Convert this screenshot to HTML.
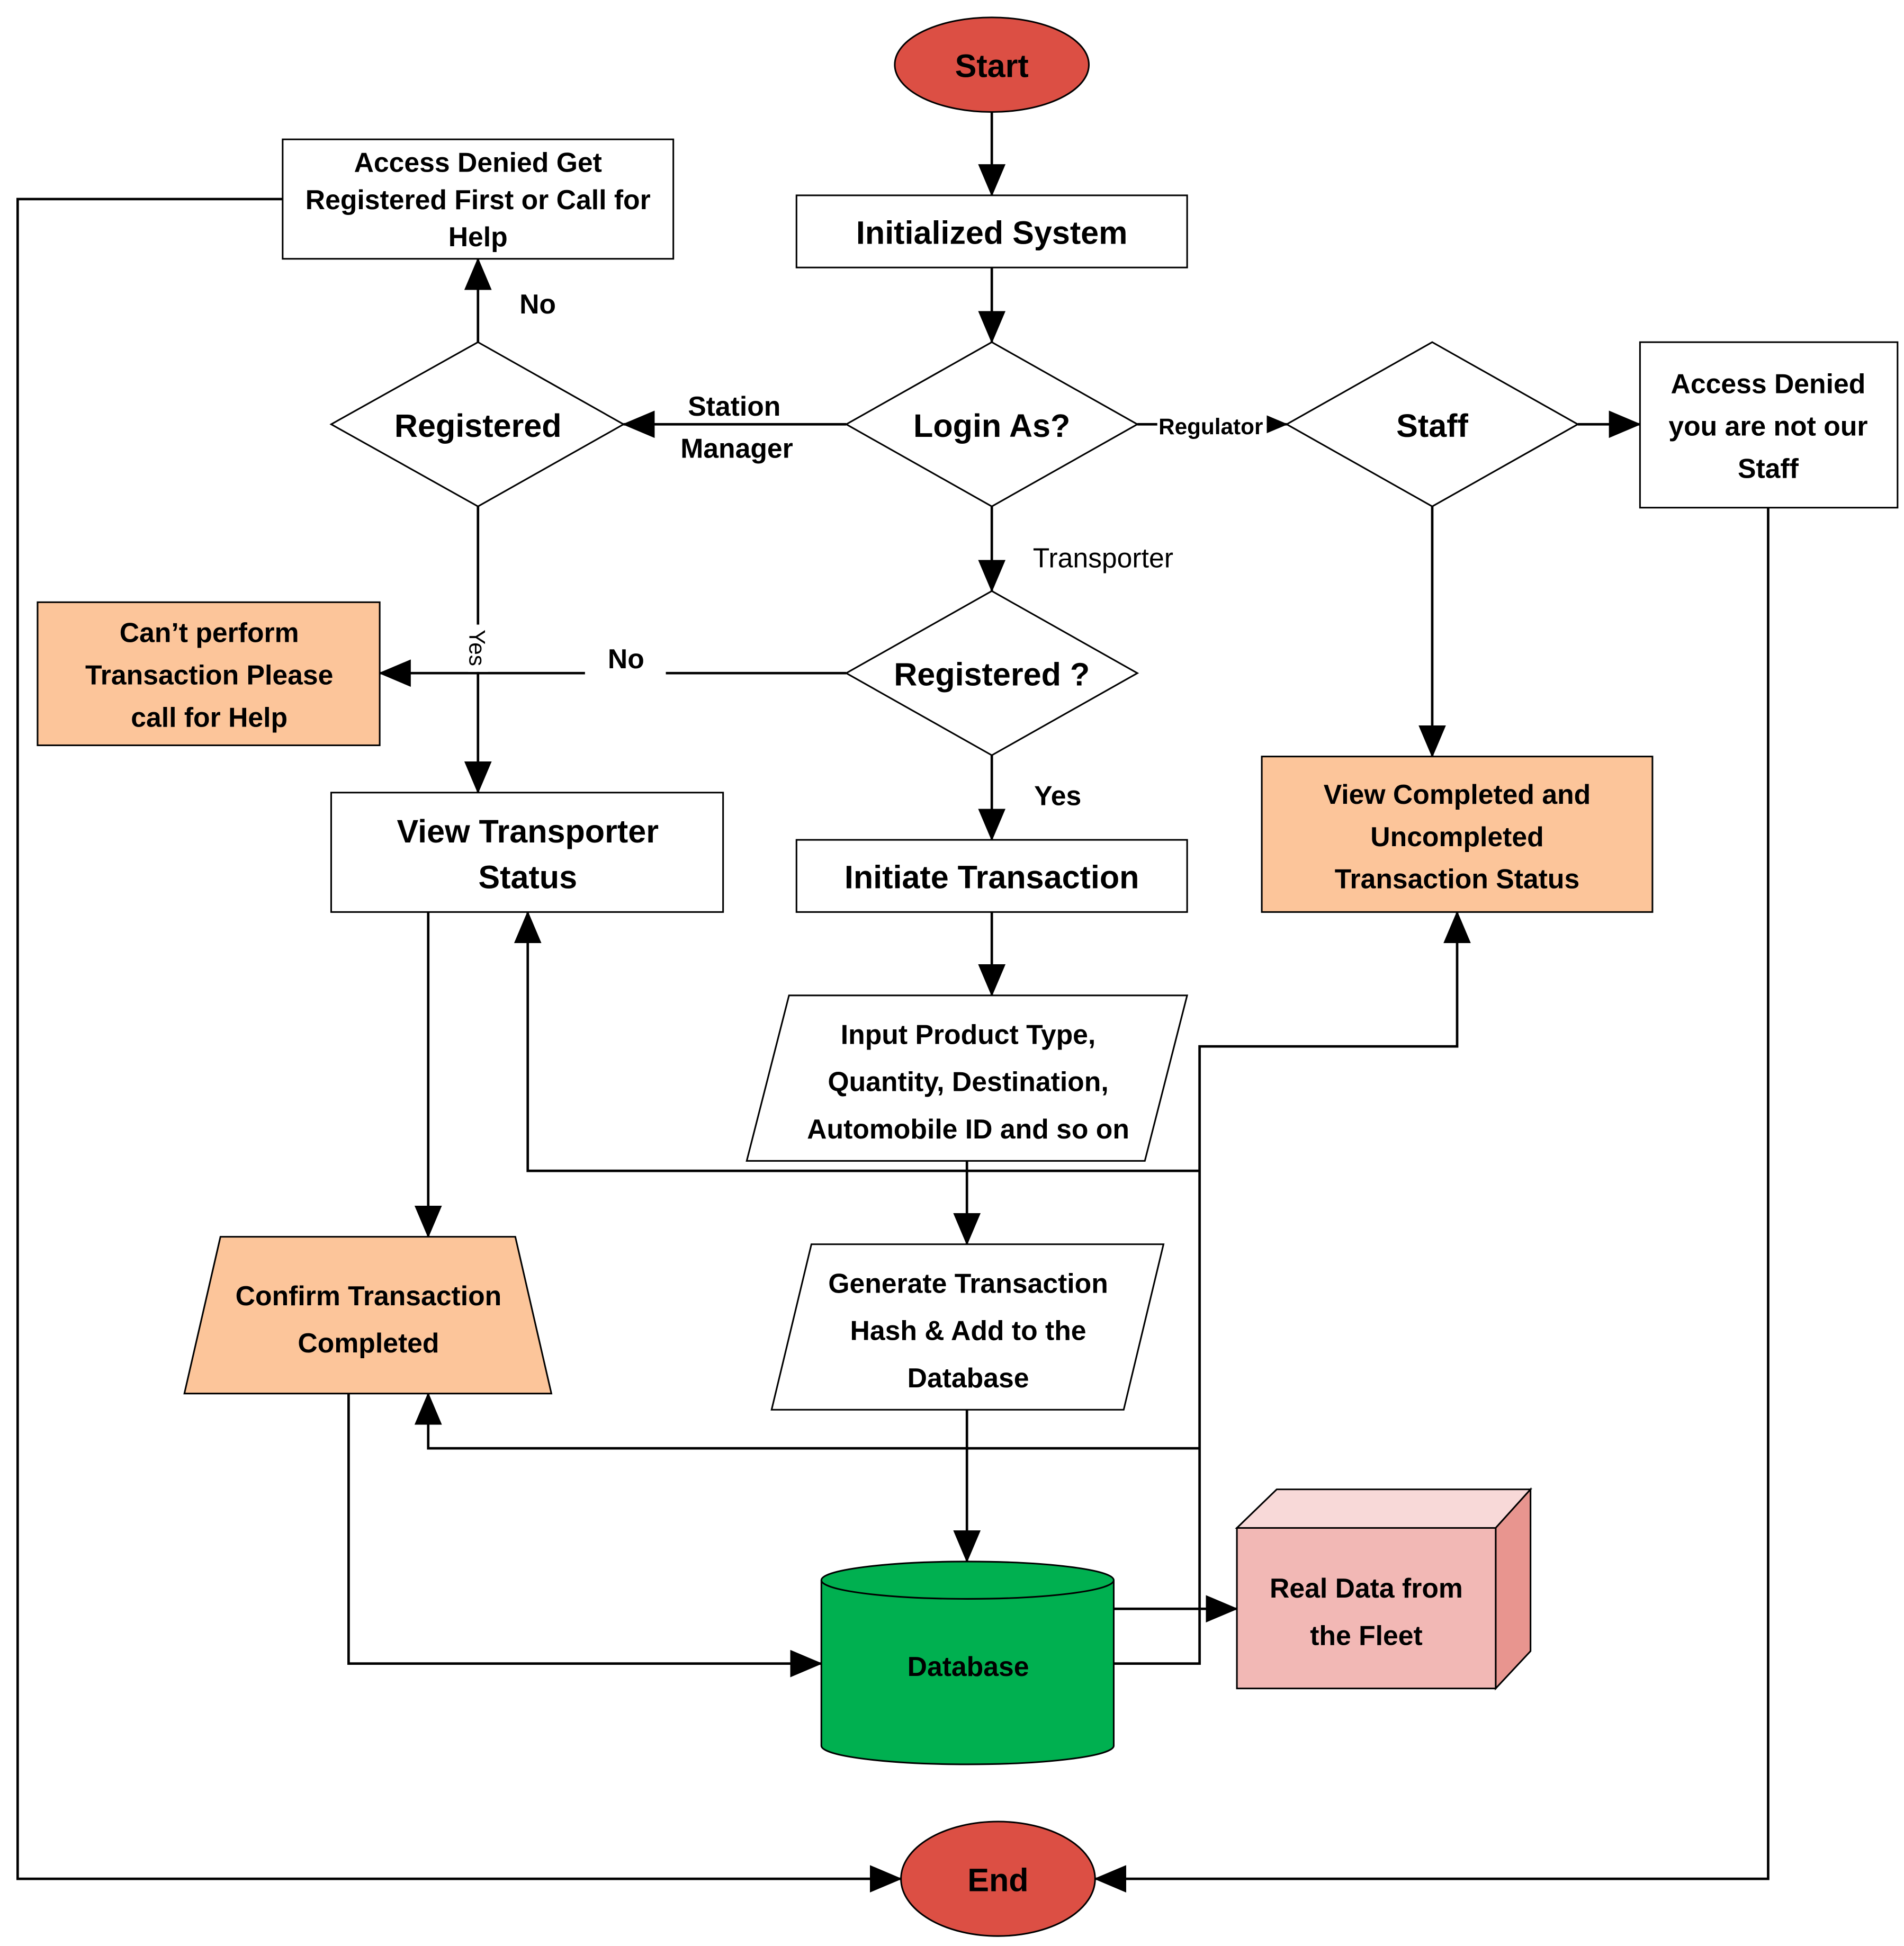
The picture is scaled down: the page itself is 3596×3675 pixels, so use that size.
<!DOCTYPE html>
<html><head><meta charset="utf-8"><style>html,body{margin:0;padding:0;background:#fff}svg{display:block}</style></head>
<body>
<svg width="3596" height="3675" viewBox="0 0 1530 1564" xmlns="http://www.w3.org/2000/svg" font-family="Liberation Sans, sans-serif">
<defs>
<marker id="a" markerWidth="10" markerHeight="10" refX="9" refY="5" orient="auto" markerUnits="userSpaceOnUse" viewBox="0 0 10 10">
<path d="M0,0 L10,5 L0,10 z" fill="#000"/></marker>
<marker id="b" markerWidth="26" markerHeight="22" refX="25" refY="11" orient="auto" markerUnits="userSpaceOnUse">
<path d="M0,0 L26,11 L0,22 z" fill="#000"/></marker>
</defs>
<g stroke="#000" stroke-width="2" fill="none">
<!-- connectors -->
<path d="M797,90 V157" marker-end="url(#b)"/>
<path d="M797,215 V275" marker-end="url(#b)"/>
<path d="M680,341 H501" marker-end="url(#b)"/>
<path d="M914,341 H1034" marker-end="url(#b)"/>
<path d="M797,407 V475" marker-end="url(#b)"/>
<path d="M384,275 V208" marker-end="url(#b)"/>
<path d="M227,160 H14 V1510 H724" marker-end="url(#b)"/>
<path d="M384,407 V637" marker-end="url(#b)"/>
<path d="M680,541 H535"/>
<path d="M470,541 H305" marker-end="url(#b)"/>
<path d="M797,607 V675" marker-end="url(#b)"/>
<path d="M1268,341 H1318" marker-end="url(#b)"/>
<path d="M1151,407 V608" marker-end="url(#b)"/>
<path d="M1421,408 V1510 H880" marker-end="url(#b)"/>
<path d="M797,733 V800" marker-end="url(#b)"/>
<path d="M777,933 V1000" marker-end="url(#b)"/>
<path d="M777,1133 V1255" marker-end="url(#b)"/>
<path d="M344,733 V994" marker-end="url(#b)"/>
<path d="M280,1120 V1337 H660" marker-end="url(#b)"/>
<path d="M895,1293 H994" marker-end="url(#b)"/>
<path d="M895,1337 H964 V841 H1171 V733" marker-end="url(#b)"/>
<path d="M964,941 H424 V733" marker-end="url(#b)"/>
<path d="M964,1164 H344 V1120" marker-end="url(#b)"/>
</g>
<g stroke="#000" stroke-width="1.3">
<ellipse cx="797" cy="52" rx="78" ry="38" fill="#dc4f44"/>
<rect x="640" y="157" width="314" height="58" fill="#fff"/>
<polygon points="797,275 914,341 797,407 680,341" fill="#fff"/>
<polygon points="384,275 501,341 384,407 266,341" fill="#fff"/>
<rect x="227" y="112" width="314" height="96" fill="#fff"/>
<polygon points="1151,275 1268,341 1151,407 1034,341" fill="#fff"/>
<rect x="1318" y="275" width="207" height="133" fill="#fff"/>
<polygon points="797,475 914,541 797,607 680,541" fill="#fff"/>
<rect x="30" y="484" width="275" height="115" fill="#fcc59a"/>
<rect x="266" y="637" width="315" height="96" fill="#fff"/>
<rect x="640" y="675" width="314" height="58" fill="#fff"/>
<rect x="1014" y="608" width="314" height="125" fill="#fcc59a"/>
<polygon points="634,800 954,800 920,933 600,933" fill="#fff"/>
<polygon points="652,1000 935,1000 903,1133 620,1133" fill="#fff"/>
<polygon points="177,994 414,994 443,1120 148,1120" fill="#fcc59a"/>
<path d="M660,1270 V1403 A117.5,15 0 0 0 895,1403 V1270" fill="#00b050"/>
<ellipse cx="777.5" cy="1270" rx="117.5" ry="15" fill="#00b050"/>
<polygon points="994,1228 1026,1197 1230,1197 1202,1228" fill="#f8d9d8"/>
<polygon points="1202,1228 1230,1197 1230,1327 1202,1357" fill="#e8958f"/>
<rect x="994" y="1228" width="208" height="129" fill="#f2b8b5"/>
<ellipse cx="802" cy="1510" rx="78" ry="46" fill="#dc4f44"/>
</g>
<rect x="930" y="330" width="88" height="24" fill="#fff"/>
<g font-weight="bold" text-anchor="middle" fill="#000" font-size="26">
<text x="797" y="62">Start</text>
<text x="797" y="196">Initialized System</text>
<text x="797" y="351">Login As?</text>
<text x="384" y="351">Registered</text>
<text x="1151" y="351">Staff</text>
<text x="797" y="551">Registered ?</text>
<text x="424" y="677">View Transporter</text>
<text x="424" y="714">Status</text>
<text x="797" y="714">Initiate Transaction</text>
<text x="802" y="1520">End</text>
</g>
<g font-weight="bold" text-anchor="middle" fill="#000" font-size="22">
<text x="384" y="138">Access Denied Get</text>
<text x="384" y="168">Registered First or Call for</text>
<text x="384" y="198">Help</text>
<text x="1421" y="316">Access Denied</text>
<text x="1421" y="350">you are not our</text>
<text x="1421" y="384">Staff</text>
<text x="168" y="516">Can’t perform</text>
<text x="168" y="550">Transaction Please</text>
<text x="168" y="584">call for Help</text>
<text x="1171" y="646">View Completed and</text>
<text x="1171" y="680">Uncompleted</text>
<text x="1171" y="714">Transaction Status</text>
<text x="778" y="839">Input Product Type,</text>
<text x="778" y="877">Quantity, Destination,</text>
<text x="778" y="915">Automobile ID and so on</text>
<text x="778" y="1039">Generate Transaction</text>
<text x="778" y="1077">Hash &amp; Add to the</text>
<text x="778" y="1115">Database</text>
<text x="296" y="1049">Confirm Transaction</text>
<text x="296" y="1087">Completed</text>
<text x="778" y="1347">Database</text>
<text x="1098" y="1284">Real Data from</text>
<text x="1098" y="1322">the Fleet</text>
<text x="432" y="252">No</text>
<text x="503" y="537">No</text>
<text x="850" y="647">Yes</text>
<text x="590" y="334">Station</text>
<text x="592" y="368">Manager</text>
<text x="973" y="349" font-size="18">Regulator</text>
</g>
<text x="830" y="456" font-size="22" fill="#000">Transporter</text>
<rect x="376" y="502" width="16" height="38" fill="#fff"/>
<text x="0" y="0" font-size="18" fill="#000" transform="translate(377,506) rotate(90)">Yes</text>
</svg>
</body></html>
